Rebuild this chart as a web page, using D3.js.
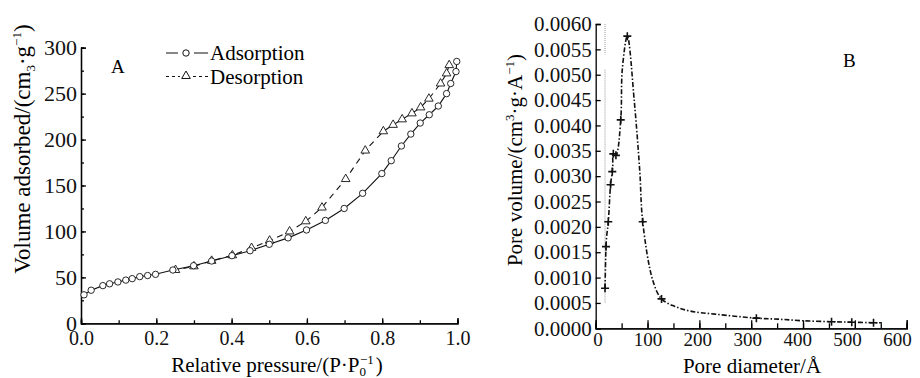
<!DOCTYPE html>
<html>
<head>
<meta charset="utf-8">
<script src="https://cdn.jsdelivr.net/npm/d3@7"></script>
<style>
  body { margin: 0; background: #fff; }
  svg { display: block; font-family: "Liberation Serif", "DejaVu Serif", serif; }
  .axis path, .axis line { stroke: #000; stroke-width: 1.3; }
  .axis text { font-family: "Liberation Serif", serif; fill: #111; }
</style>
</head>
<body>
<div id="chart"></div>
<script>
// Panel A: N2 isotherm, [P/P0, volume]
const adsorption = [
  [0.008, 31], [0.027, 36], [0.058, 41], [0.076, 43], [0.098, 45], [0.119, 47],
  [0.136, 48.6], [0.156, 50.8], [0.177, 52], [0.198, 53.3], [0.244, 58], [0.299, 62.7],
  [0.347, 67.8], [0.401, 73.6], [0.449, 79], [0.5, 86], [0.55, 93], [0.599, 101.6],
  [0.649, 112], [0.699, 125], [0.748, 141.5], [0.799, 163], [0.824, 177], [0.851, 193],
  [0.876, 206], [0.901, 218], [0.925, 227], [0.949, 236.5], [0.971, 250], [0.982, 261],
  [0.996, 274], [0.998, 285]
];
const desorption = [
  [0.978, 281], [0.971, 272], [0.955, 261], [0.924, 244.5], [0.902, 235], [0.879, 228.5],
  [0.853, 222], [0.829, 216], [0.803, 209], [0.755, 188], [0.703, 157], [0.640, 126],
  [0.597, 111], [0.554, 100], [0.501, 90], [0.453, 82], [0.402, 74], [0.347, 68],
  [0.300, 62], [0.251, 58]
];
const xTicksA = [0, 0.2, 0.4, 0.6, 0.8, 1.0];
const yTicksA = [0, 50, 100, 150, 200, 250, 300];

// Panel B: pore size distribution, [diameter Å, pore volume]
const poreDist = [
  [18, 0.00079], [19.9, 0.00161], [21, 0.0018], [24.3, 0.0021], [28.7, 0.00283],
  [32, 0.00309], [33, 0.00322], [34, 0.00344], [39, 0.00341], [48.3, 0.00411],
  [51.3, 0.0051], [61, 0.00576], [74.5, 0.00447], [85, 0.0031], [90.7, 0.0021],
  [110, 0.00095], [127, 0.00058], [153, 0.00043], [182, 0.00034], [230, 0.00028],
  [310, 0.0002], [352, 0.00018], [397, 0.00015], [455, 0.00013], [494, 0.00012],
  [536, 0.00011], [552, 0.00011]
];
const markedB = [18, 19.9, 24.3, 28.7, 32, 34, 39, 48.3, 61, 90.7, 127, 310, 455, 494, 536];
const guideB = [[0.006, 0.0054], [0.0051, 0.0005]];
const xTicksB = [0, 100, 200, 300, 400, 500, 600];
const yTicksB = d3.range(0, 13).map(i => i * 0.0005);

const width = 920, height = 378;
const svg = d3.select("#chart").append("svg")
  .attr("width", width)
  .attr("height", height);

// ---------- Panel A ----------
const xA = d3.scaleLinear().domain([0, 1]).range([81, 457.5]);
const yA = d3.scaleLinear().domain([0, 300]).range([323.3, 47.7]);

svg.append("g").attr("class", "axis")
  .attr("transform", `translate(0,${yA(0)})`)
  .call(d3.axisBottom(xA).tickValues(d3.range(0, 1.01, 0.1)).tickSize(-3).tickFormat(""));
svg.append("g").attr("class", "axis")
  .attr("transform", `translate(0,${yA(0)})`)
  .call(d3.axisBottom(xA).tickValues(xTicksA).tickSize(-5).tickPadding(4).tickFormat(d3.format(".1f")))
  .call(g => g.selectAll("text").attr("font-size", 20).attr("dy", "0.9em"));

svg.append("g").attr("class", "axis")
  .attr("transform", `translate(${xA(0)},0)`)
  .call(d3.axisLeft(yA).tickValues(d3.range(0, 301, 25)).tickSize(-3).tickFormat(""));
svg.append("g").attr("class", "axis")
  .attr("transform", `translate(${xA(0)},0)`)
  .call(d3.axisLeft(yA).tickValues(yTicksA).tickSize(-5).tickPadding(4))
  .call(g => g.selectAll("text").attr("font-size", 22));

const lineA = d3.line().x(d => xA(d[0])).y(d => yA(d[1]));

svg.append("path").datum(adsorption)
  .attr("d", lineA).attr("fill", "none").attr("stroke", "#111").attr("stroke-width", 1.1);
svg.append("path").datum(desorption)
  .attr("d", lineA).attr("fill", "none").attr("stroke", "#111").attr("stroke-width", 1.1)
  .attr("stroke-dasharray", "6,5");

const tri = d3.symbol().type(d3.symbolTriangle).size(32);

svg.append("g").selectAll("path")
  .data(desorption).join("path")
  .attr("d", tri)
  .attr("transform", d => `translate(${xA(d[0])},${yA(d[1])})`)
  .attr("fill", "#fff").attr("stroke", "#111").attr("stroke-width", 0.9);

svg.append("g").selectAll("circle")
  .data(adsorption).join("circle")
  .attr("cx", d => xA(d[0])).attr("cy", d => yA(d[1])).attr("r", 3.2)
  .attr("fill", "#fff").attr("stroke", "#111").attr("stroke-width", 0.9);

// legend
const leg = svg.append("g");
leg.append("path").attr("d", "M166,53H178M194,53H208")
  .attr("fill", "none").attr("stroke", "#111").attr("stroke-width", 1.2);
leg.append("circle").attr("cx", 186).attr("cy", 53).attr("r", 3.2)
  .attr("fill", "#fff").attr("stroke", "#111");
leg.append("path").attr("d", "M166,76.5H169M172,76.5H175M178,76.5H180M193,76.5H196M199,76.5H202M205,76.5H208")
  .attr("fill", "none").attr("stroke", "#111").attr("stroke-width", 1.2);
leg.append("path").attr("d", tri).attr("transform", "translate(186,76)")
  .attr("fill", "#fff").attr("stroke", "#111");
leg.append("text").attr("x", 210).attr("y", 60).attr("font-size", 21).text("Adsorption");
leg.append("text").attr("x", 210).attr("y", 83.5).attr("font-size", 21).text("Desorption");

svg.append("text").attr("x", 111).attr("y", 73).attr("font-size", 19).text("A");

// axis titles A
const xtA = svg.append("text").attr("x", 277).attr("y", 372)
  .attr("text-anchor", "middle").attr("font-size", 21);
xtA.append("tspan").text("Relative pressure/(P·P");
xtA.append("tspan").attr("font-size", 13).attr("dy", 4).text("0");
xtA.append("tspan").attr("font-size", 13).attr("dx", -6).attr("dy", -12).text("−1");
xtA.append("tspan").attr("dy", 8).attr("dx", 2).text(")");

const ytA = svg.append("text")
  .attr("transform", "translate(30,149) rotate(-90)")
  .attr("text-anchor", "middle").attr("font-size", 23);
ytA.append("tspan").text("Volume adsorbed/(cm");
ytA.append("tspan").attr("font-size", 13).attr("dy", 5).text("3");
ytA.append("tspan").attr("dy", -5).text("·g");
ytA.append("tspan").attr("font-size", 13).attr("dy", -9).text("−1");
ytA.append("tspan").attr("dy", 9).text(")");

// ---------- Panel B ----------
const xB = d3.scaleLinear().domain([0, 600]).range([595.7, 906.7]);
const yB = d3.scaleLinear().domain([0, 0.006]).range([328.3, 24]);
// tick labels in the source sit on a slightly tighter spacing than the ticks
const xBLabel = d3.scaleLinear().domain([0, 600]).range([597.5, 897]);

svg.append("g").attr("class", "axis")
  .attr("transform", `translate(0,${yB(0)})`)
  .call(d3.axisBottom(xB).tickValues(d3.range(0, 601, 50)).tickSize(-5).tickFormat(""));
svg.append("g").attr("class", "axis")
  .attr("transform", `translate(0,${yB(0)})`)
  .call(d3.axisBottom(xB).tickValues(xTicksB).tickSize(-8).tickFormat(""));
svg.append("g").attr("class", "axis")
  .attr("transform", `translate(0,${yB(0)})`)
  .call(d3.axisBottom(xBLabel).tickValues(xTicksB).tickSize(0).tickPadding(2).tickFormat(d3.format("d")))
  .call(g => g.select(".domain").remove())
  .call(g => g.selectAll("text").attr("font-size", 19).attr("dy", "0.85em"));
svg.append("g").attr("class", "axis")
  .attr("transform", `translate(${xB(0)},0)`)
  .call(d3.axisLeft(yB).tickValues(yTicksB).tickSize(-5).tickPadding(4).tickFormat(d3.format(".4f")))
  .call(g => g.selectAll("text").attr("font-size", 21));

// faint guide line near the left edge
svg.append("g").selectAll("line")
  .data(guideB).join("line")
  .attr("x1", xB(18)).attr("x2", xB(18))
  .attr("y1", d => yB(d[0])).attr("y2", d => yB(d[1]))
  .attr("stroke", "#999").attr("stroke-width", 1).attr("stroke-dasharray", "1,1");

const lineB = d3.line().curve(d3.curveCatmullRom).x(d => xB(d[0])).y(d => yB(d[1]));
svg.append("path").datum(poreDist)
  .attr("d", lineB).attr("fill", "none").attr("stroke", "#111").attr("stroke-width", 1.6)
  .attr("stroke-dasharray", "5,2,1.5,2");

svg.append("g").selectAll("path")
  .data(poreDist.filter(d => markedB.includes(d[0]))).join("path")
  .attr("d", "M-4,0H4M0,-4V4")
  .attr("transform", d => `translate(${xB(d[0])},${yB(d[1])})`)
  .attr("stroke", "#111").attr("stroke-width", 1.6);

svg.append("text").attr("x", 843).attr("y", 67).attr("font-size", 19).text("B");

svg.append("text").attr("x", 752).attr("y", 373)
  .attr("text-anchor", "middle").attr("font-size", 21).text("Pore diameter/Å");

const ytB = svg.append("text")
  .attr("transform", "translate(522,160) rotate(-90)")
  .attr("text-anchor", "middle").attr("font-size", 21);
ytB.append("tspan").text("Pore volume/(cm");
ytB.append("tspan").attr("font-size", 13).attr("dy", -8).text("3");
ytB.append("tspan").attr("dy", 8).text("·g·A");
ytB.append("tspan").attr("font-size", 13).attr("dy", -8).text("−1");
ytB.append("tspan").attr("dy", 8).text(")");
</script>
</body>
</html>
